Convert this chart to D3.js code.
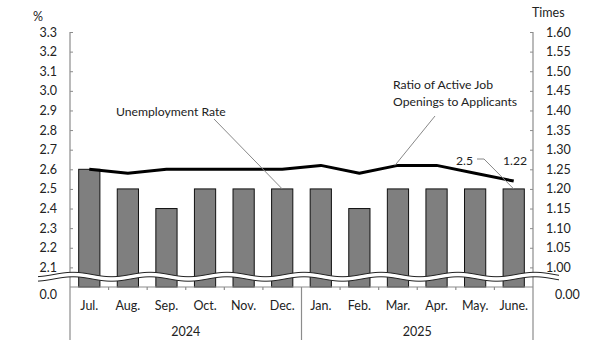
<!DOCTYPE html>
<html><head><meta charset="utf-8">
<script src="https://cdn.jsdelivr.net/npm/d3@7"></script>
<style>
html,body{margin:0;padding:0;background:#fff;}
text{font-family:Lato,"Open Sans",sans-serif;fill:#222;}
</style></head>
<body><svg id="c" width="612" height="356"></svg>
<script>
const months = ["Jul.","Aug.","Sep.","Oct.","Nov.","Dec.","Jan.","Feb.","Mar.","Apr.","May.","June."];
const years = [{label:"2024", from:0, to:5},{label:"2025", from:6, to:11}];
const unemployment = [2.6,2.5,2.4,2.5,2.5,2.5,2.5,2.4,2.5,2.5,2.5,2.5];
const ratio = [1.25,1.24,1.25,1.25,1.25,1.25,1.26,1.24,1.26,1.26,1.24,1.22];
const leftTicks = [2.1,2.2,2.3,2.4,2.5,2.6,2.7,2.8,2.9,3.0,3.1,3.2,3.3];
const rightTicks = [1.00,1.05,1.10,1.15,1.20,1.25,1.30,1.35,1.40,1.45,1.50,1.55,1.60];

const FS = 12.5, FA = 12.2;
const svg = d3.select("#c");
const X0 = 70, X1 = 533, YB = 287, YT = 32, YBOT = 340;
const x = d3.scaleBand().domain(months.map((m,i)=>i)).range([X0,X1]).paddingInner(0.45).paddingOuter(0.225);
const step = x.step();
const yL = d3.scaleLinear().domain([2.0,3.3]).range([YB,YT]);
const yR = d3.scaleLinear().domain([0.95,1.60]).range([YB,YT]);
const axisCol = "#8c8c8c";

// bars
svg.append("g").selectAll("rect").data(unemployment).join("rect")
  .attr("x",(d,i)=>x(i)).attr("width",x.bandwidth())
  .attr("y",d=>yL(d)).attr("height",d=>YB-yL(d))
  .attr("fill","#7f7f7f").attr("stroke","#111").attr("stroke-width",1);

// line
svg.append("path").datum(ratio)
  .attr("d", d3.line().x((d,i)=>x(i)+x.bandwidth()/2).y(d=>yR(d)))
  .attr("fill","none").attr("stroke","#000").attr("stroke-width",3).attr("stroke-linejoin","round");

// left axis
const gL = svg.append("g").attr("transform",`translate(${X0},0)`)
  .call(d3.axisLeft(yL).tickValues(leftTicks).tickFormat(d3.format(".1f")).tickSizeInner(-3).tickSizeOuter(0).tickPadding(13));
gL.select(".domain").remove();
gL.selectAll("line").attr("stroke",axisCol);
gL.selectAll("text").attr("font-size",FS).attr("font-family","Lato").attr("fill","#222");

// right axis
const gR = svg.append("g").attr("transform",`translate(${X1},0)`)
  .call(d3.axisRight(yR).tickValues(rightTicks).tickFormat(d3.format(".2f")).tickSizeInner(-3).tickSizeOuter(0).tickPadding(13));
gR.select(".domain").remove();
gR.selectAll("line").attr("stroke",axisCol);
gR.selectAll("text").attr("font-size",FS).attr("font-family","Lato").attr("fill","#222");

// axis lines
[X0, X1].forEach(xx=>svg.append("line").attr("x1",xx).attr("x2",xx).attr("y1",YT).attr("y2",YBOT).attr("stroke",axisCol).attr("stroke-width",1.2));
svg.append("line").attr("x1",X0).attr("x2",X1).attr("y1",YB).attr("y2",YB).attr("stroke",axisCol).attr("stroke-width",1.2);
// category ticks at baseline
d3.range(1,12).forEach(i=>{
  const xx = X0 + i*step;
  svg.append("line").attr("x1",xx).attr("x2",xx).attr("y1",YB).attr("y2",i===6?YBOT:YB+3).attr("stroke",axisCol).attr("stroke-width",1.2);
});

// month labels
svg.append("g").selectAll("text").data(months).join("text")
  .attr("x",(d,i)=>x(i)+x.bandwidth()/2).attr("y",306).attr("dy","0.35em")
  .attr("text-anchor","middle").attr("font-size",FS).text(d=>d);
svg.append("g").selectAll("text").data(years).join("text")
  .attr("x",d=>(X0+d.from*step + X0+(d.to+1)*step)/2).attr("y",332).attr("dy","0.35em")
  .attr("text-anchor","middle").attr("font-size",FS).text(d=>d.label);

// break wave
const P = 77, A = 2.2, ph = 73;
const wx = d3.range(38, 560, 1);
const upper = wx.map(v=>[v, 274.5 - A*Math.cos(2*Math.PI*(v-ph)/P)]);
const lower = wx.map(v=>[v, 279 - A*Math.cos(2*Math.PI*(v-ph)/P)]);
svg.append("path").attr("d", d3.line()(upper.concat(lower.slice().reverse()))+"Z").attr("fill","#fff").attr("stroke","none");
svg.append("path").attr("d", d3.line()(upper)).attr("fill","none").attr("stroke","#222").attr("stroke-width",1);
svg.append("path").attr("d", d3.line()(lower)).attr("fill","none").attr("stroke","#222").attr("stroke-width",1);

// zero labels
svg.append("text").attr("x",57).attr("y",295).attr("dy","0.35em").attr("text-anchor","end").attr("font-size",FS).text("0.0");
svg.append("text").attr("x",555).attr("y",295).attr("dy","0.35em").attr("font-size",FS).text("0.00");

// unit labels
svg.append("text").attr("x",33).attr("y",17).attr("dy","0.35em").attr("font-size",FS).text("%");
svg.append("text").attr("x",532).attr("y",13).attr("dy","0.35em").attr("font-size",FS).text("Times");

// annotations
svg.append("text").attr("x",116).attr("y",112).attr("dy","0.35em").attr("font-size",FA).text("Unemployment Rate");
svg.append("line").attr("x1",214).attr("y1",119).attr("x2",x(5)+x.bandwidth()/2).attr("y2",yL(unemployment[5])).attr("stroke","#888").attr("stroke-width",1);
svg.append("text").attr("x",393).attr("y",85).attr("dy","0.35em").attr("font-size",FA).text("Ratio of Active Job");
svg.append("text").attr("x",393).attr("y",102).attr("dy","0.35em").attr("font-size",FA).text("Openings to Applicants");
svg.append("line").attr("x1",435).attr("y1",116).attr("x2",x(8)+x.bandwidth()/2-3).attr("y2",yR(ratio[8])).attr("stroke","#888").attr("stroke-width",1);
svg.append("text").attr("x",456).attr("y",161).attr("dy","0.35em").attr("font-size",FA).text(unemployment[11].toFixed(1));
svg.append("path").attr("d",`M477,159 L484,159 L${x(11)+x.bandwidth()/2},${yL(unemployment[11])}`).attr("fill","none").attr("stroke","#888").attr("stroke-width",1);
svg.append("text").attr("x",503).attr("y",161).attr("dy","0.35em").attr("font-size",FA).text(ratio[11].toFixed(2));
</script></body></html>
